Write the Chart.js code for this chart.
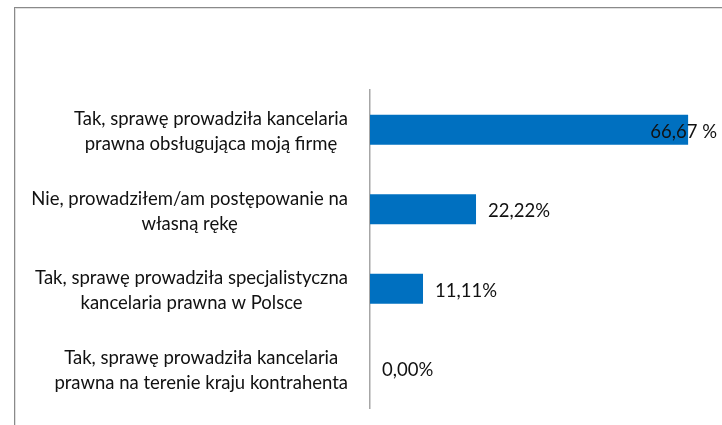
<!DOCTYPE html>
<html>
<head>
<meta charset="utf-8">
<script src="https://cdn.jsdelivr.net/npm/chart.js@4"></script>
<style>
  html, body { margin: 0; padding: 0; background: #fff; }
  #wrap { width: 722px; height: 425px; position: relative; }
</style>
</head>
<body>
<div id="wrap"><canvas id="chart"></canvas></div>
<script>
const categories = [
  ["Tak, sprawę prowadziła kancelaria", "prawna obsługująca moją firmę"],
  ["Nie, prowadziłem/am postępowanie na", "własną rękę"],
  ["Tak, sprawę prowadziła specjalistyczna", "kancelaria prawna w Polsce"],
  ["Tak, sprawę prowadziła kancelaria", "prawna na terenie kraju kontrahenta"]
];
const values = [66.67, 22.22, 11.11, 0];
const valueLabels = ["66,67 %", "22,22%", "11,11%", "0,00%"];

const FONT = "18.5px Lato";
const TEXT = "#111";

// outer frame (only top and left edges are visible in the picture)
const framePlugin = {
  id: "frame",
  beforeDraw(chart) {
    const ctx = chart.ctx;
    ctx.save();
    ctx.strokeStyle = "#8a8a8a";
    ctx.lineWidth = 1;
    ctx.strokeRect(14.5, 7.5, 900, 600);
    ctx.strokeStyle = "#e0e0e0";
    ctx.strokeRect(15.5, 8.5, 900, 600);
    ctx.restore();
  }
};

// category labels: block right-aligned to the axis, lines centred inside the block
const catLabels = {
  id: "catLabels",
  afterDraw(chart) {
    const ctx = chart.ctx;
    const y = chart.scales.y;
    ctx.save();
    ctx.font = FONT;
    ctx.fillStyle = TEXT;
    ctx.textAlign = "center";
    ctx.textBaseline = "middle";
    const lineH = 25;
    categories.forEach((lines, i) => {
      const cy = y.getPixelForValue(i) + 2;
      const w = Math.max(...lines.map(l => ctx.measureText(l).width));
      const right = chart.chartArea.left - 22;
      const cx = right - w / 2;
      lines.forEach((l, k) => {
        ctx.fillText(l, cx, cy + (k - (lines.length - 1) / 2) * lineH);
      });
    });
    ctx.restore();
  }
};

// value labels at the end of each bar
const valLabels = {
  id: "valLabels",
  afterDatasetsDraw(chart) {
    const ctx = chart.ctx;
    const meta = chart.getDatasetMeta(0);
    ctx.save();
    ctx.font = FONT;
    ctx.fillStyle = TEXT;
    ctx.textAlign = "left";
    ctx.textBaseline = "middle";
    meta.data.forEach((bar, i) => {
      const w = ctx.measureText(valueLabels[i]).width;
      let x = bar.x + 12;
      if (x + w > chart.width - 5) x = chart.width - 5 - w;
      ctx.fillText(valueLabels[i], x, bar.y + 2);
    });
    ctx.restore();
  }
};

new Chart(document.getElementById("chart"), {
  type: "bar",
  data: {
    labels: categories,
    datasets: [{
      data: values,
      backgroundColor: "#0070c0",
      borderWidth: 0,
      barPercentage: 0.38,
      categoryPercentage: 1
    }]
  },
  options: {
    indexAxis: "y",
    responsive: true,
    maintainAspectRatio: false,
    animation: false,
    layout: { padding: { top: 90, bottom: 17, right: 18, left: 0 } },
    plugins: {
      legend: { display: false },
      tooltip: { enabled: false }
    },
    scales: {
      x: {
        display: false,
        min: 0,
        max: 70
      },
      y: {
        grid: { display: false, drawTicks: false },
        border: { display: true, color: "#a6a6a6", width: 1.5 },
        ticks: { display: false },
        afterFit(scale) { scale.width = 370; }
      }
    }
  },
  plugins: [framePlugin, catLabels, valLabels]
});
</script>
</body>
</html>
